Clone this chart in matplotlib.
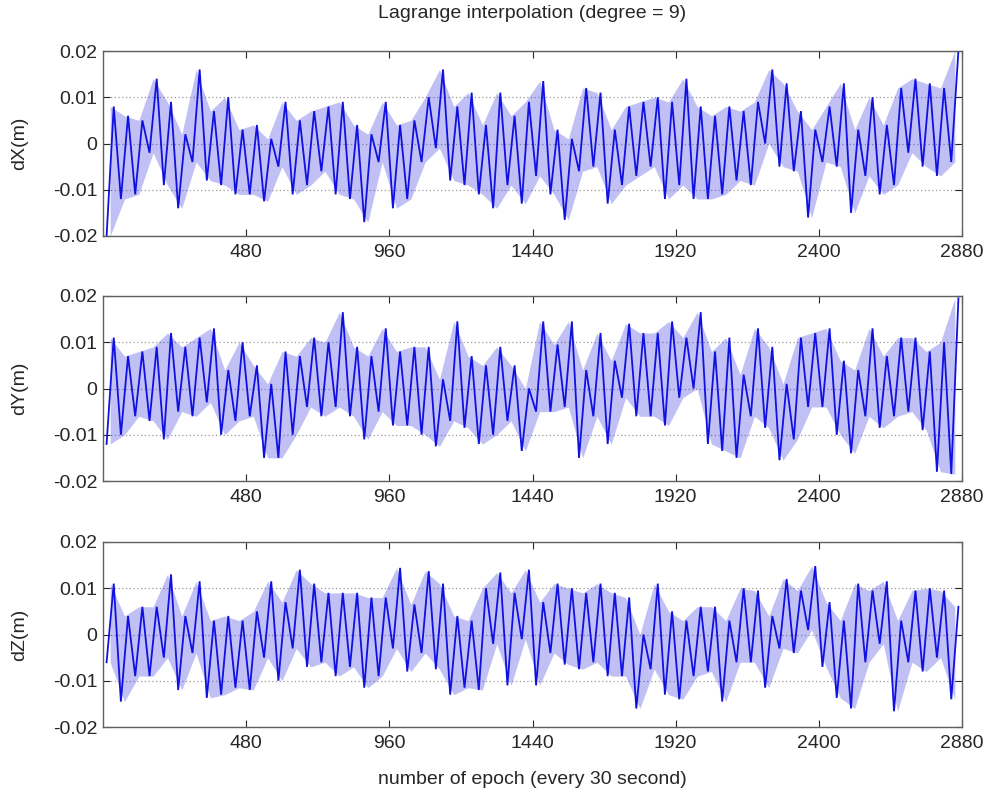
import numpy as np
import matplotlib
matplotlib.use("Agg")
import matplotlib.pyplot as plt

plt.rcParams['font.family'] = ['Liberation Sans', 'DejaVu Sans']

# bin width in epochs (each value pair = local min / max within one 48-epoch bin)
BIN = 48
xticks = [480, 960, 1440, 1920, 2400, 2880]
yticks = [-0.02, -0.01, 0, 0.01, 0.02]
ytick_labels = ["-0.02", "-0.01", "0", "0.01", "0.02"]
ylabels = ["dX(m)", "dY(m)", "dZ(m)"]
title = "Lagrange interpolation (degree = 9)"
xlabel = "number of epoch (every 30 second)"

dx_hi = [0.008, 0.006, 0.005, 0.014, 0.009, 0.002, 0.016, 0.007, 0.010, 0.003,
         0.004, 0.001, 0.009, 0.005, 0.007, 0.008, 0.009, 0.004, 0.002, 0.009,
         0.004, 0.005, 0.010, 0.016, 0.008, 0.011, 0.004, 0.011, 0.006, 0.009,
         0.0135, 0.003, 0.001, 0.012, 0.011, 0.003, 0.008, 0.009, 0.010, 0.009,
         0.014, 0.008, 0.006, 0.008, 0.007, 0.009, 0.016, 0.013, 0.007, 0.003,
         0.008, 0.013, 0.003, 0.010, 0.004, 0.012, 0.014, 0.013, 0.012, 0.020]
dx_lo = [-0.020, -0.012, -0.011, -0.002, -0.009, -0.014, -0.004, -0.008, -0.009, -0.011,
         -0.011, -0.0125, -0.005, -0.011, -0.009, -0.006, -0.011, -0.012, -0.017, -0.004,
         -0.014, -0.012, -0.004, -0.001, -0.008, -0.009, -0.011, -0.014, -0.009, -0.013,
         -0.007, -0.011, -0.0165, -0.006, -0.005, -0.013, -0.009, -0.007, -0.005, -0.012,
         -0.009, -0.012, -0.012, -0.011, -0.008, -0.009, 0.000, -0.005, -0.006, -0.016,
         -0.004, -0.005, -0.015, -0.007, -0.011, -0.009, -0.002, -0.005, -0.007, -0.004]

dy_hi = [0.011, 0.007, 0.008, 0.009, 0.012, 0.009, 0.011, 0.013, 0.004, 0.010,
         0.005, 0.001, 0.008, 0.007, 0.011, 0.010, 0.0165, 0.009, 0.007, 0.013,
         0.008, 0.009, 0.009, 0.002, 0.0145, 0.007, 0.005, 0.009, 0.005, 0.000,
         0.0145, 0.0095, 0.0145, 0.004, 0.012, 0.006, 0.014, 0.012, 0.012, 0.0145,
         0.011, 0.0165, 0.008, 0.011, 0.003, 0.013, 0.009, 0.001, 0.011, 0.012,
         0.013, 0.006, 0.004, 0.013, 0.007, 0.011, 0.011, 0.008, 0.010, 0.0195]
dy_lo = [-0.012, -0.010, -0.006, -0.007, -0.011, -0.005, -0.006, -0.003, -0.010, -0.007,
         -0.006, -0.015, -0.015, -0.010, -0.004, -0.006, -0.004, -0.006, -0.011, -0.005,
         -0.008, -0.008, -0.010, -0.0125, -0.007, -0.0085, -0.012, -0.010, -0.007, -0.0135,
         -0.005, -0.005, -0.004, -0.015, -0.006, -0.012, -0.002, -0.006, -0.006, -0.008,
         -0.002, 0.000, -0.012, -0.0135, -0.015, -0.006, -0.0085, -0.0155, -0.011, -0.004,
         -0.004, -0.010, -0.014, -0.006, -0.0085, -0.006, -0.005, -0.009, -0.018, -0.0185]

dz_hi = [0.011, 0.004, 0.006, 0.006, 0.013, 0.004, 0.0115, 0.003, 0.004, 0.003,
         0.005, 0.0115, 0.007, 0.014, 0.011, 0.009, 0.009, 0.009, 0.008, 0.008,
         0.0144, 0.0065, 0.0137, 0.011, 0.004, 0.003, 0.010, 0.0134, 0.009, 0.014,
         0.007, 0.011, 0.010, 0.009, 0.011, 0.009, 0.008, 0.000, 0.011, 0.005,
         0.003, 0.006, 0.006, 0.003, 0.010, 0.0095, 0.004, 0.012, 0.0095, 0.0148,
         0.007, 0.003, 0.011, 0.0095, 0.0115, 0.003, 0.0095, 0.010, 0.0095, 0.006]
dz_lo = [-0.006, -0.0145, -0.009, -0.009, -0.005, -0.012, -0.004, -0.0137, -0.013, -0.0115,
         -0.012, -0.005, -0.010, -0.003, -0.007, -0.006, -0.009, -0.007, -0.0115, -0.009,
         -0.003, -0.008, -0.004, -0.0075, -0.013, -0.0115, -0.012, -0.002, -0.011, -0.001,
         -0.011, -0.004, -0.0065, -0.0075, -0.006, -0.009, -0.009, -0.016, -0.0075, -0.013,
         -0.014, -0.009, -0.008, -0.0145, -0.006, -0.006, -0.0115, -0.003, -0.004, 0.001,
         -0.007, -0.0137, -0.016, -0.006, -0.002, -0.0166, -0.006, -0.008, -0.005, -0.014]

series = [(dx_lo, dx_hi), (dy_lo, dy_hi), (dz_lo, dz_hi)]

W, H = 983, 791
fig = plt.figure(figsize=(W / 100, H / 100), dpi=100)
fig.patch.set_facecolor('white')

ax_left, ax_right = 103, 962
tops = [51, 296, 542]
ax_h = 185
FS = 14
TXT = '#262626'

axes = []
for k, (lo, hi) in enumerate(series):
    ax = fig.add_axes([ax_left / W, 1 - (tops[k] + ax_h) / H,
                       (ax_right - ax_left) / W, ax_h / H])
    lo = np.asarray(lo)
    hi = np.asarray(hi)
    starts = np.arange(len(lo)) * BIN
    centers = starts + BIN / 2
    ax.fill_between(centers, lo, hi, color='#3030e0', alpha=0.3, lw=0)
    xs = np.column_stack([starts + BIN * 0.25, starts + BIN * 0.75]).ravel()
    ys = np.column_stack([lo, hi]).ravel()
    ax.plot(xs, ys, color='#1010e0', lw=1.3, solid_joinstyle='miter')
    ax.set_xlim(0, 2880)
    ax.set_ylim(-0.02, 0.02)
    ax.set_xticks(xticks)
    ax.set_xticklabels([str(t) for t in xticks])
    ax.set_yticks(yticks)
    ax.set_yticklabels(ytick_labels)
    ax.yaxis.grid(True, linestyle=(0, (1, 2)), color='#9a9a9a', lw=0.9)
    ax.set_axisbelow(True)
    ax.tick_params(direction='in', top=True, right=True, length=5,
                   labelsize=FS, colors=TXT, pad=4)
    ax.tick_params(axis='x', pad=6)
    for s in ax.spines.values():
        s.set_color('#606060')
        s.set_linewidth(1.0)
    fig.text(20 / W, 1 - (tops[k] + ax_h / 2) / H, ylabels[k], rotation=90,
             ha='center', va='center', fontsize=FS, color=TXT)
    axes.append(ax)

fig.text(532.5 / W, 1 - 13 / H, title, ha='center', va='center', fontsize=FS, color=TXT)
fig.text(532.5 / W, 1 - 779 / H, xlabel, ha='center', va='center', fontsize=FS, color=TXT)

fig.savefig("out.png", dpi=100, facecolor='white')
